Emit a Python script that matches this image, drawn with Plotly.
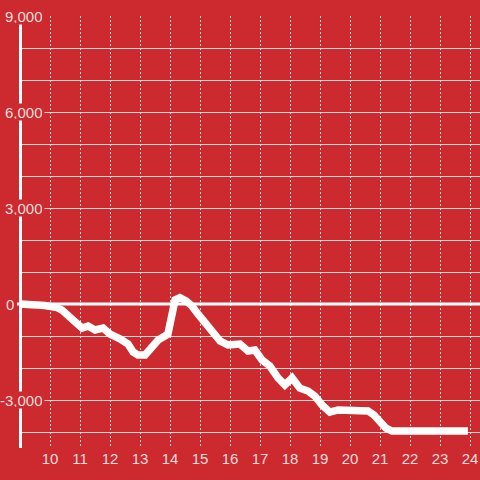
import plotly.graph_objects as go

# Data (hour of day, value)
hours = [9.0, 9.6, 9.83, 10.23, 10.4, 10.73, 11.07, 11.27, 11.5, 11.77, 12.0, 12.33,
         12.6, 12.77, 12.93, 13.17, 13.4, 13.6, 13.83, 13.93, 14.17, 14.33, 14.53,
         14.73, 14.93, 15.13, 15.4, 15.67, 15.93, 16.17, 16.33, 16.6, 16.83, 17.07,
         17.33, 17.6, 17.83, 18.07, 18.33, 18.6, 18.83, 19.07, 19.33, 19.6, 19.83,
         20.33, 20.6, 20.8, 21.0, 21.2, 21.4, 23.93]
values = [0, 0, -50, -110, -190, -470, -750, -690, -810, -750, -940, -1090,
          -1250, -1500, -1590, -1590, -1310, -1130, -1000, -940, 130, 200, 100,
          -60, -310, -560, -910, -1160, -1280, -1280, -1250, -1470, -1440, -1750,
          -1940, -2310, -2530, -2310, -2630, -2720, -2880, -3160, -3380, -3310, -3310,
          -3310, -3340, -3470, -3690, -3880, -3970, -3970]

x_ticks = list(range(10, 25))
x_tick_labels = [str(v) for v in x_ticks]
y_ticks = [-3000, 0, 3000, 6000, 9000]
y_tick_labels = ["-3,000", "0", "3,000", "6,000", "9,000"]

BG = "#cc2a2f"
GRID = "#dadada"
TXT = "#f6dcdc"
FONT = "Liberation Sans, Arial, sans-serif"

fig = go.Figure()
fig.add_trace(go.Scatter(
    x=hours, y=values, mode="lines",
    line=dict(color="white", width=7.5),
    hoverinfo="skip", showlegend=False,
))

annotations = []
for v, t in zip(y_ticks, y_tick_labels):
    xr = (16 - 20) / 460 if v == 0 else (44.5 - 20) / 460
    annotations.append(dict(
        x=xr, xref="paper", y=v, yref="y", text=t, showarrow=False,
        xanchor="right", yanchor="middle", bgcolor=BG if v != 0 else "rgba(0,0,0,0)",
        height=14, borderpad=1,
        font=dict(family=FONT, size=15, color=TXT),
    ))

shapes = [
    # zero line extending slightly left of the axis
    dict(type="line", xref="paper", yref="y", x0=-3 / 460, x1=1, y0=0, y1=0,
         line=dict(color="white", width=3), layer="above"),
    # y axis line
    dict(type="line", xref="paper", yref="paper", x0=0.5 / 460, x1=0.5 / 460, y0=0, y1=1,
         line=dict(color="white", width=3), layer="above"),
]

fig.update_layout(
    width=480, height=480,
    margin=dict(l=20, r=0, t=16, b=32, pad=0),
    paper_bgcolor=BG, plot_bgcolor=BG,
    annotations=annotations, shapes=shapes,
    xaxis=dict(
        range=[9, 9 + 460 / 30], tickvals=x_ticks, ticktext=x_tick_labels,
        showgrid=True, gridcolor=GRID, gridwidth=1, griddash="2px,2px",
        showline=False, zeroline=False, ticks="",
        tickfont=dict(family=FONT, size=15, color=TXT),
        fixedrange=True,
    ),
    yaxis=dict(
        range=[-4500, 9000], dtick=1000, tick0=0,
        showgrid=True, gridcolor=GRID, gridwidth=1,
        showticklabels=False, showline=False, zeroline=False, ticks="",
        fixedrange=True,
    ),
)

fig.write_html(
    "out.html",
    config={"displayModeBar": False, "staticPlot": True},
    post_script="document.body.style.margin='0';document.body.style.background='%s';" % BG,
)
